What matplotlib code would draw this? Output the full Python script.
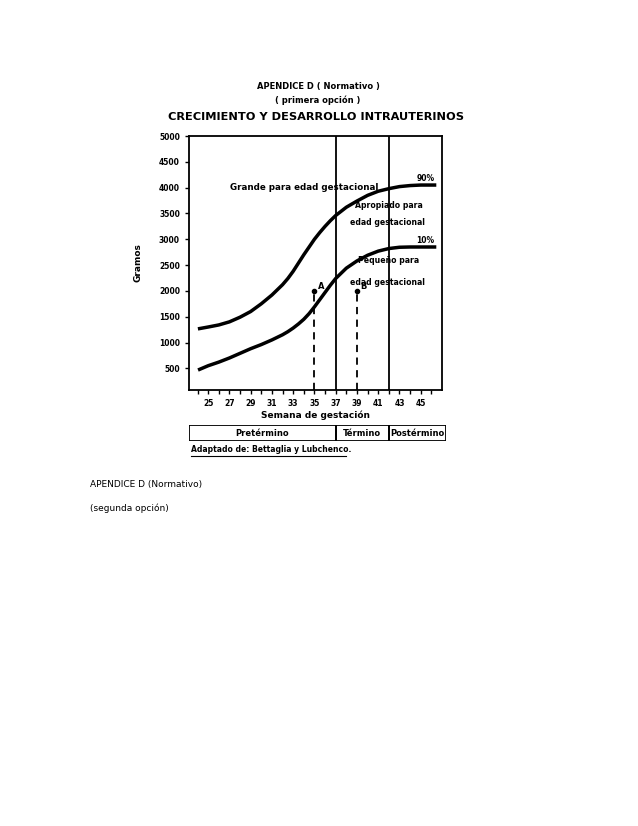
import matplotlib.pyplot as plt
from matplotlib.patches import Rectangle

W, H = 638, 826
weeks = [24.2, 25, 26, 27, 28, 29, 30, 31, 32, 32.5, 33, 33.5, 34, 34.5, 35, 35.5, 36, 36.5, 37, 38, 39, 40, 41, 42, 43, 44, 45, 46.3]
p90 = [1270, 1300, 1340, 1400, 1490, 1600, 1750, 1920, 2120, 2240, 2380, 2540, 2700, 2850, 3000, 3130, 3250, 3360, 3460, 3620, 3740, 3850, 3930, 3980, 4020, 4040, 4050, 4050]
p10 = [480, 550, 620, 700, 790, 880, 960, 1050, 1150, 1210, 1280, 1360, 1450, 1560, 1690, 1830, 1970, 2110, 2240, 2440, 2580, 2690, 2770, 2820, 2845, 2850, 2850, 2850]
xticks = [25, 27, 29, 31, 33, 35, 37, 39, 41, 43, 45]
yticks = [500, 1000, 1500, 2000, 2500, 3000, 3500, 4000, 4500, 5000]
points = {"A": (35, 2000), "B": (39, 2000)}
vlines = [37, 42]
periods = ["Pretérmino", "Término", "Postérmino"]
period_edges = [23.2, 37, 42, 47.4]

fig = plt.figure(figsize=(W / 100, H / 100), dpi=100)

def fx(px): return px / W
def fy(py): return 1 - py / H

ax = fig.add_axes([fx(189), fy(390), fx(442) - fx(189), fy(136) - fy(390)])
ax.plot(weeks, p90, color="black", lw=2.5, solid_joinstyle="round")
ax.plot(weeks, p10, color="black", lw=2.5, solid_joinstyle="round")
for v in vlines:
    ax.axvline(v, color="black", lw=1.3)
for name, (x, y) in points.items():
    ax.plot([x], [y], "o", color="black", ms=3)
    ax.plot([x, x], [80, y], color="black", lw=1.3, ls=(0, (4, 3)))
    ax.text(x + 0.35, y, name, fontsize=6, fontweight="bold", va="bottom")
ax.set_xlim(23.2, 47.0)
ax.set_ylim(80, 5000)
ax.set_xticks(xticks)
ax.set_xticks(range(24, 47), minor=True)
ax.set_yticks(yticks)
ax.tick_params(labelsize=5.5, length=3, width=1)
ax.tick_params(which="minor", length=3, width=1)
for lab in ax.get_xticklabels() + ax.get_yticklabels():
    lab.set_fontweight("bold")
for s in ax.spines.values():
    s.set_linewidth(1.3)
ax.set_xlabel("Semana de gestación", fontsize=6.5, fontweight="bold", labelpad=2)
ax.set_ylabel("Gramos", fontsize=6.5, fontweight="bold", labelpad=12)
ax.text(34.0, 4000, "Grande para edad gestacional", fontsize=6.3, fontweight="bold", ha="center", va="center")
ax.text(42.0, 3600, "Apropiado para", fontsize=5.6, fontweight="bold", ha="center")
ax.text(41.9, 3270, "edad gestacional", fontsize=5.6, fontweight="bold", ha="center")
ax.text(42.0, 2540, "Pequeño para", fontsize=5.6, fontweight="bold", ha="center")
ax.text(41.9, 2110, "edad gestacional", fontsize=5.6, fontweight="bold", ha="center")
ax.text(46.3, 4080, "90%", fontsize=5.5, fontweight="bold", ha="right", va="bottom")
ax.text(46.3, 2880, "10%", fontsize=5.5, fontweight="bold", ha="right", va="bottom")

# period bar
tb = fig.add_axes([fx(189), fy(441), fx(446) - fx(189), fy(425) - fy(441)])
tb.set_xlim(period_edges[0], period_edges[-1])
tb.set_ylim(0, 1)
tb.axis("off")
for i, name in enumerate(periods):
    a, b = period_edges[i], period_edges[i + 1]
    tb.add_patch(Rectangle((a, 0), b - a, 1, fill=False, lw=1.3, ec="black"))
    tb.text((a + b) / 2, 0.5, name, fontsize=6, fontweight="bold", ha="center", va="center")

fig.text(fx(318), fy(87), "APENDICE D ( Normativo )", fontsize=6, fontweight="bold", ha="center", va="center")
fig.text(fx(318), fy(100), "( primera opción )", fontsize=6, fontweight="bold", ha="center", va="center")
fig.text(fx(168), fy(117), "CRECIMIENTO Y DESARROLLO INTRAUTERINOS", fontsize=8.2, fontweight="bold", va="center")
fig.text(fx(191), fy(450), "Adaptado de: Bettaglia y Lubchenco.", fontsize=5.5, fontweight="bold", va="center")
fig.add_artist(plt.Line2D([fx(191), fx(346)], [fy(456), fy(456)], color="black", lw=0.8))
fig.text(fx(90), fy(484), "APENDICE D (Normativo)", fontsize=6.5, va="center")
fig.text(fx(90), fy(508), "(segunda opción)", fontsize=6.5, va="center")

fig.savefig("out.png", dpi=100)
